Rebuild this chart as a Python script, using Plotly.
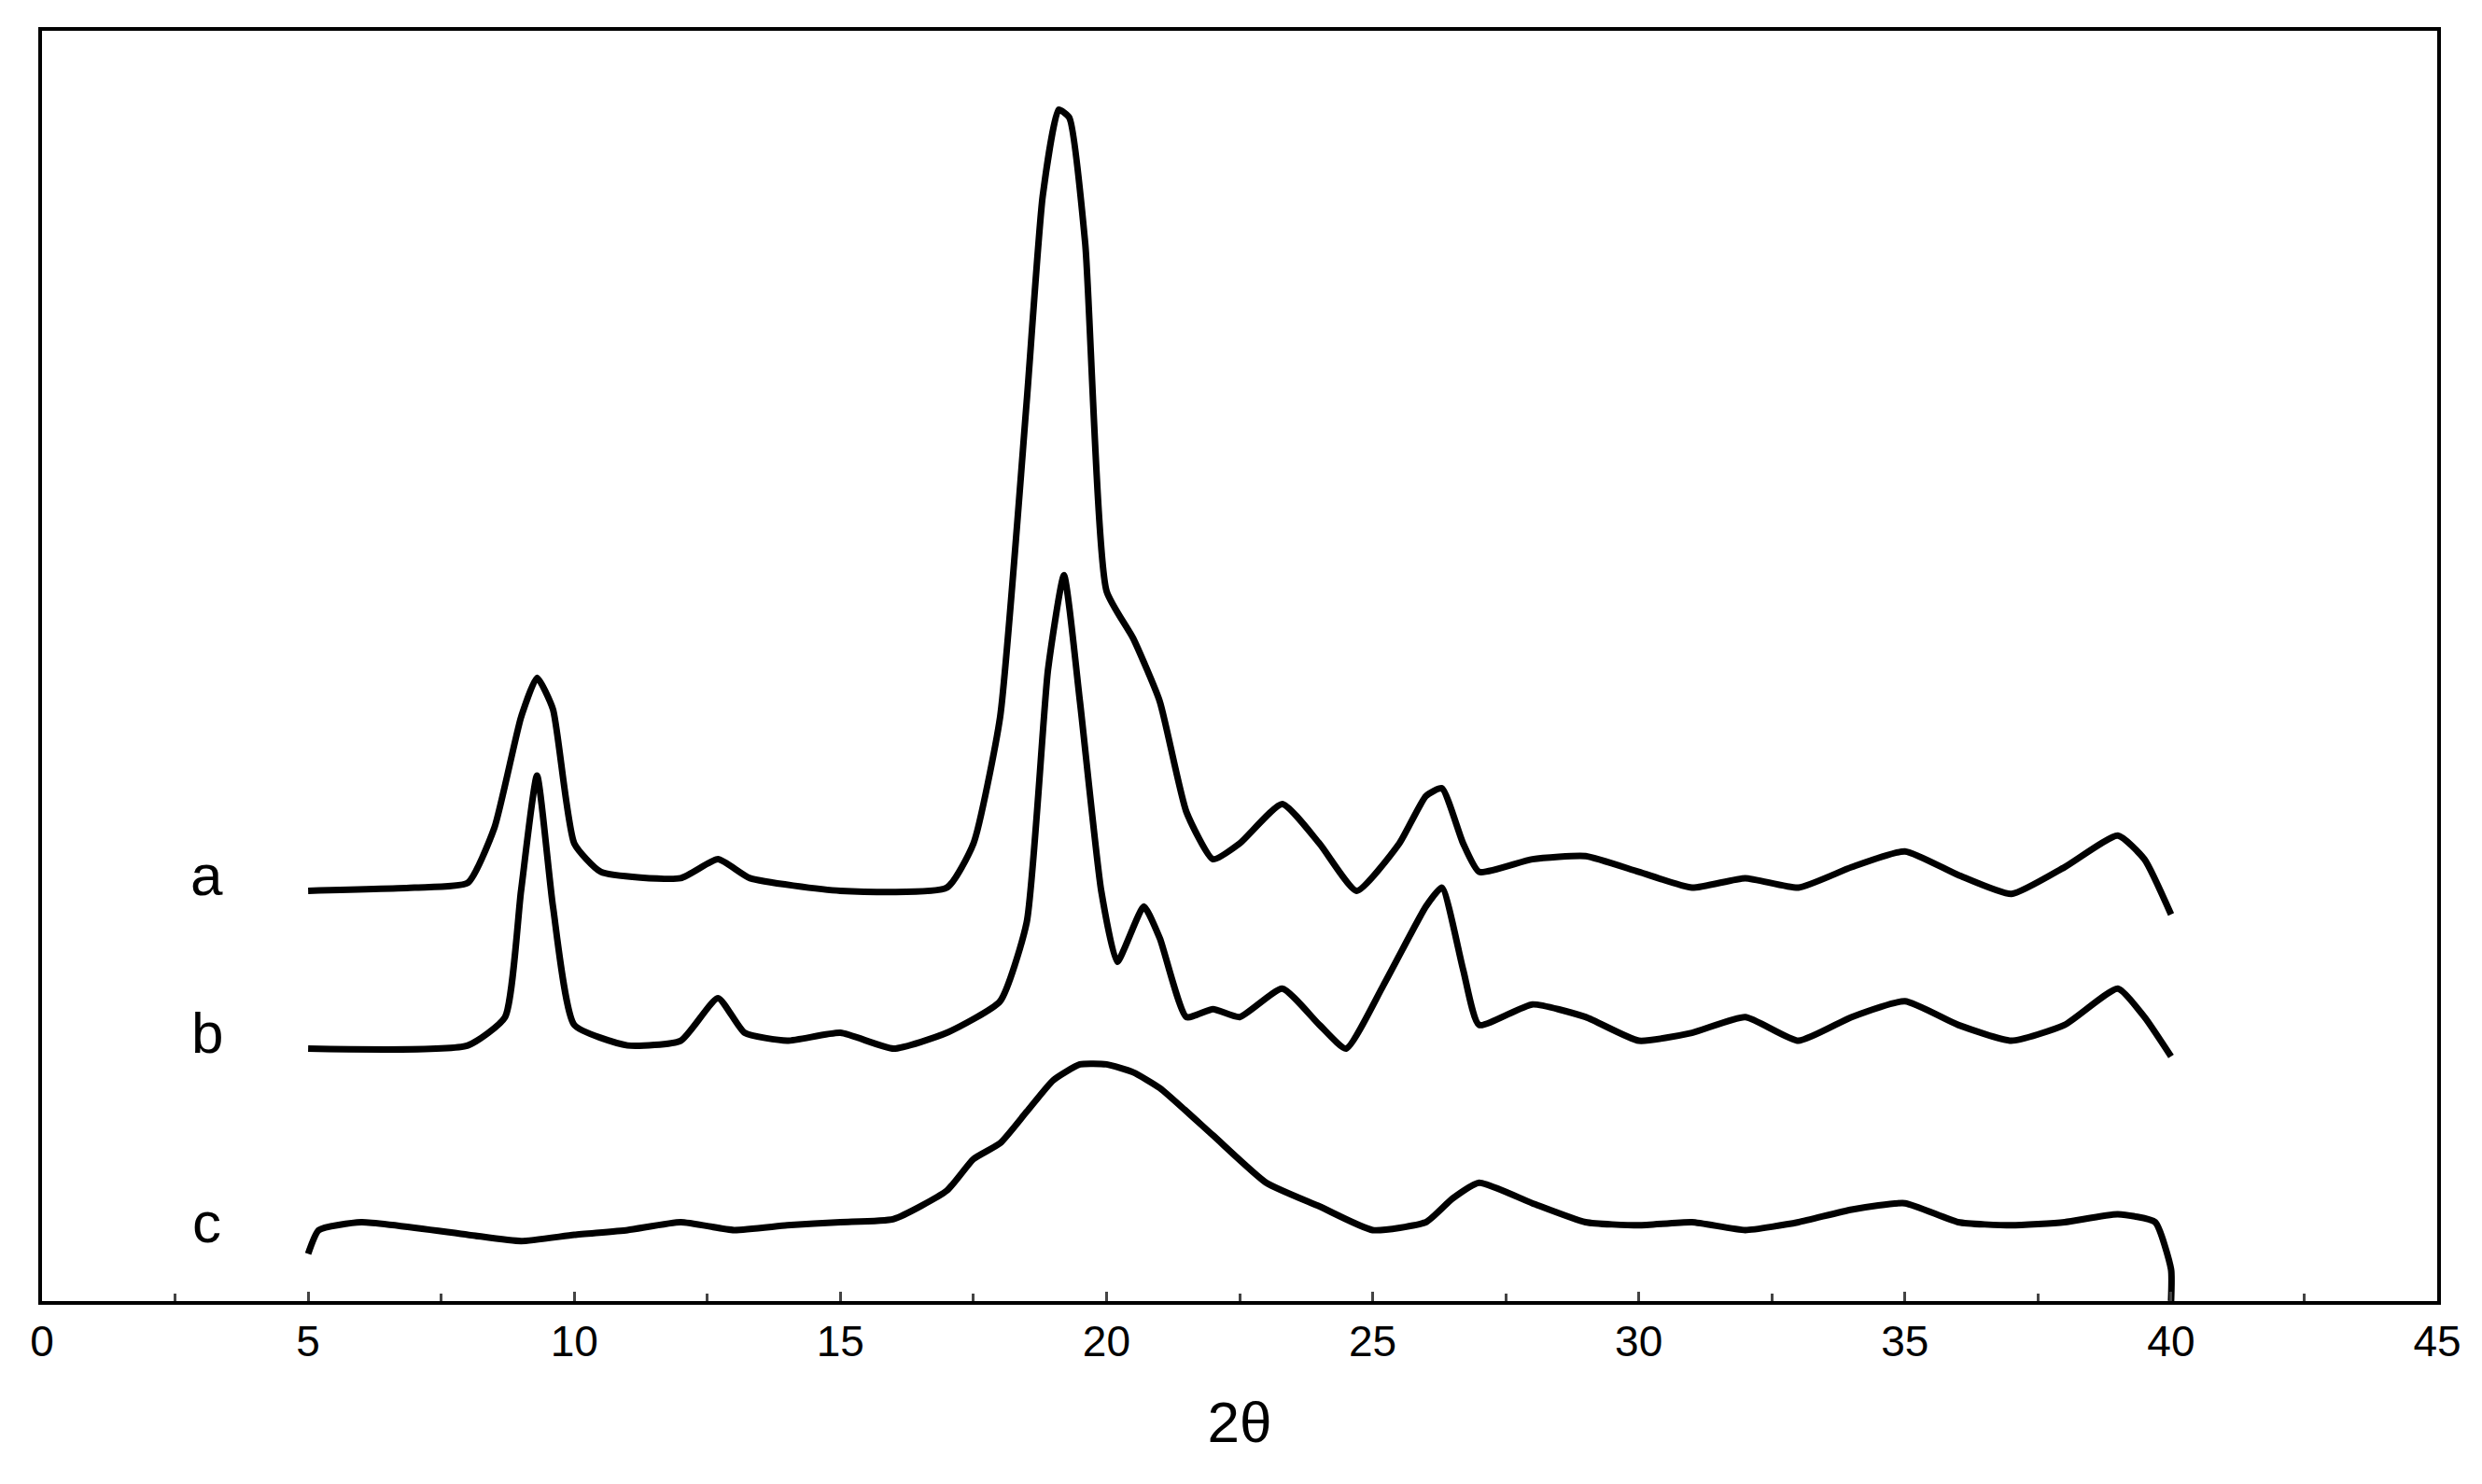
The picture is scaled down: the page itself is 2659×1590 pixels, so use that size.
import plotly.graph_objects as go

# readings from the picture (intensity in arbitrary units, 0 = axis)
x_a = [5, 7, 8, 8.5, 9, 9.3, 9.6, 10, 10.5, 12, 12.7, 13.3, 15, 17, 17.5, 18, 18.5, 18.8, 19.1, 19.3, 19.6, 20,
       20.5, 21, 21.5, 22, 22.5, 23.3, 24, 24.7, 25.5, 26, 26.3, 26.7, 27, 28, 29, 30, 31, 32, 33, 34, 35, 36,
       37, 38, 39, 39.5, 40]
y_a = [260, 262, 265, 300, 370, 395, 375, 290, 272, 268, 280, 268, 260, 262, 290, 370, 570, 700, 755, 750, 670, 450,
       420, 380, 310, 280, 290, 315, 290, 260, 290, 320, 325, 290, 272, 280, 282, 272, 262, 268, 262, 275, 285, 270,
       258, 275, 295, 280, 245]
x_b = [5, 8, 8.7, 9, 9.3, 9.6, 10, 11, 12, 12.7, 13.2, 14, 15, 16, 17, 18, 18.5, 18.9, 19.2, 19.5, 19.9, 20.2,
       20.7, 21, 21.5, 22, 22.5, 23.3, 24, 24.5, 25.2, 26, 26.3, 26.7, 27, 28, 29, 30, 31, 32, 33, 34, 35, 36,
       37, 38, 39, 39.5, 40]
y_b = [160, 162, 180, 260, 333, 250, 175, 162, 165, 192, 170, 165, 170, 160, 170, 190, 240, 400, 460, 380, 260, 215,
       250, 230, 180, 185, 180, 198, 175, 160, 200, 250, 262, 210, 175, 188, 180, 165, 170, 180, 165, 180, 190, 175,
       165, 175, 198, 180, 155]
x_c = [5, 5.2, 6, 8, 9, 10, 11, 12, 13, 14, 15, 16, 17, 17.5, 18, 18.5, 19, 19.5, 20, 20.5, 21, 22, 23, 24, 25,
       26, 26.5, 27, 28, 29, 30, 31, 32, 33, 34, 35, 36, 37, 38, 39, 39.7, 40, 40]
y_c = [30, 45, 50, 42, 38, 42, 45, 50, 45, 48, 50, 52, 70, 90, 100, 120, 140, 150, 150, 145, 135, 105, 75, 60, 45,
       50, 65, 75, 62, 50, 48, 50, 45, 50, 58, 62, 50, 48, 50, 55, 50, 20, 0]

labels = ["a", "b", "c"]
label_y = [270, 170, 50]

fig = go.Figure()
for xs, ys in [(x_a, y_a), (x_b, y_b), (x_c, y_c)]:
    fig.add_trace(go.Scatter(x=xs, y=ys, mode="lines",
                             line=dict(color="black", width=7, shape="spline", smoothing=0.5)))

for lab, ly in zip(labels, label_y):
    fig.add_annotation(x=3.1, y=ly, text=lab, showarrow=False,
                       font=dict(size=62, color="black", family="Liberation Sans"))

fig.update_layout(
    width=2659, height=1590,
    plot_bgcolor="white", paper_bgcolor="white",
    showlegend=False,
    margin=dict(l=37, r=56, t=25, b=204),
    font=dict(family="Liberation Sans", color="black", size=46),
    xaxis=dict(range=[0, 45], tickvals=list(range(0, 46, 5)), ticks="inside", ticklen=10, tickwidth=3,
               minor=dict(dtick=2.5, ticks="inside", ticklen=8, tickwidth=3),
               showline=True, linecolor="black", linewidth=4, mirror=True, showgrid=False, zeroline=False,
               title=dict(text="2θ", font=dict(size=62), standoff=40)),
    yaxis=dict(range=[0, 805], showticklabels=False, ticks="", showline=True, linecolor="black",
               linewidth=4, mirror=True, showgrid=False, zeroline=False),
)
fig.write_html("out.html")
